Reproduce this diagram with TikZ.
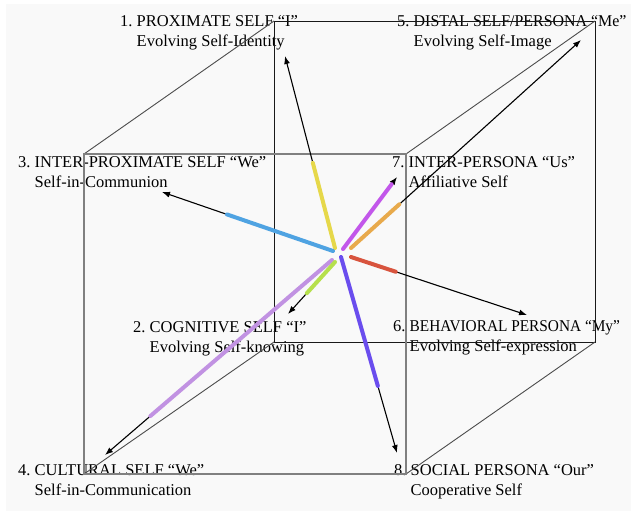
\documentclass[tikz,border=0pt]{standalone}
\usepackage{fontspec}
\setmainfont{Liberation Serif}
\usetikzlibrary{arrows.meta,calc}
\definecolor{bgc}{HTML}{F9F9F9}
\definecolor{cyel}{HTML}{E6D84A}
\definecolor{cblu}{HTML}{4FA3E2}
\definecolor{cmag}{HTML}{C257EA}
\definecolor{cora}{HTML}{E8AA4C}
\definecolor{cred}{HTML}{D8543E}
\definecolor{cind}{HTML}{6A4DEE}
\definecolor{clav}{HTML}{C192E2}
\definecolor{cgrn}{HTML}{B6E04C}
\newcommand{\lbl}[3]{\begin{tabular}[t]{@{}l@{}}\makebox[1em][l]{#1.}#2\\\hspace*{1em}#3\end{tabular}}
\begin{document}
\begin{tikzpicture}[x=1pt,y=-1pt,
  lab/.style={anchor=base west, inner sep=0pt, font=\fontsize{16.5}{20}\selectfont},
  front/.style={draw=black!50, line width=2pt},
  back/.style={draw=black!90, line width=1pt},
  depth/.style={draw=black!70, line width=0.9pt},
  blk/.style={draw=black, line width=1.1pt, -{Latex[length=8pt,width=6pt]}},
  seg/.style={line width=4pt, line cap=round}]
\useasboundingbox (0,0) rectangle (631,515);
\fill[bgc] (6,4) rectangle (631,511);
% labels
\node[lab] (l1) at (120,26) {\lbl{1}{PROXIMATE SELF “I”}{Evolving Self-Identity}};
\node[lab] (l2) at (133,332) {\lbl{2}{COGNITIVE SELF “I”}{Evolving Self-knowing}};
\node[lab] (l3) at (18,167) {\lbl{3}{INTER-PROXIMATE SELF “We”}{Self-in-Communion}};
\node[lab] (l4) at (18,475) {\lbl{4}{CULTURAL SELF “We”}{Self-in-Communication}};
\node[lab] (l5) at (397,26) {\lbl{5}{\scalebox{0.965}[1]{DISTAL SELF/PERSONA “Me”}}{Evolving Self-Image}};
\node[lab] (l6) at (393,331) {\lbl{6}{\scalebox{0.93}[1]{BEHAVIORAL PERSONA “My”}}{Evolving Self-expression}};
\node[lab] (l7) at (392,167) {\lbl{7}{INTER-PERSONA “Us”}{Affiliative Self}};
\node[lab] (l8) at (394,475) {\lbl{8}{SOCIAL PERSONA “Our”}{Cooperative Self}};
% cube corners
\coordinate (FTL) at (84,154); \coordinate (FTR) at (406,154);
\coordinate (FBR) at (406,474); \coordinate (FBL) at (84,474);
\coordinate (BTL) at (274,21); \coordinate (BTR) at (595,21);
\coordinate (BBR) at (595,342); \coordinate (BBL) at (274,342);
\draw[back] (BTL) -- (BTR) -- (BBR) -- (BBL) -- cycle;
\draw[depth] (FTL) -- (BTL) (FTR) -- (BTR) (FBR) -- (BBR) (FBL) -- (BBL);
\draw[front] (FTL) -- (FTR) -- (FBR) -- (FBL) -- cycle;
% arrows: start, tip
\coordinate (s1) at (335,248); \coordinate (t1) at (285,56);
\coordinate (s3) at (333,251); \coordinate (t3) at (162,192);
\coordinate (s7) at (343,249); \coordinate (t7) at (397,177);
\coordinate (s5) at (351,248); \coordinate (t5) at (581,40);
\coordinate (s6) at (351,257); \coordinate (t6) at (527,315);
\coordinate (s8) at (341,257); \coordinate (t8) at (397,453);
\coordinate (s4) at (332,260); \coordinate (t4) at (105,455);
\coordinate (s2) at (335,262); \coordinate (t2) at (288,314);
\foreach \i in {1,...,8} \draw[blk] (s\i) -- (t\i);
\draw[seg, cyel] (s1) -- ($(s1)!0.443!(t1)$);
\draw[seg, cblu] (s3) -- ($(s3)!0.62!(t3)$);
\draw[seg, cmag] (s7) -- ($(s7)!0.9!(t7)$);
\draw[seg, cora] (s5) -- ($(s5)!0.21!(t5)$);
\draw[seg, cred] (s6) -- ($(s6)!0.254!(t6)$);
\draw[seg, cind] (s8) -- ($(s8)!0.658!(t8)$);
\draw[seg, clav] (s4) -- ($(s4)!0.80!(t4)$);
\draw[seg, cgrn] (s2) -- ($(s2)!0.6!(t2)$);
\end{tikzpicture}
\end{document}
